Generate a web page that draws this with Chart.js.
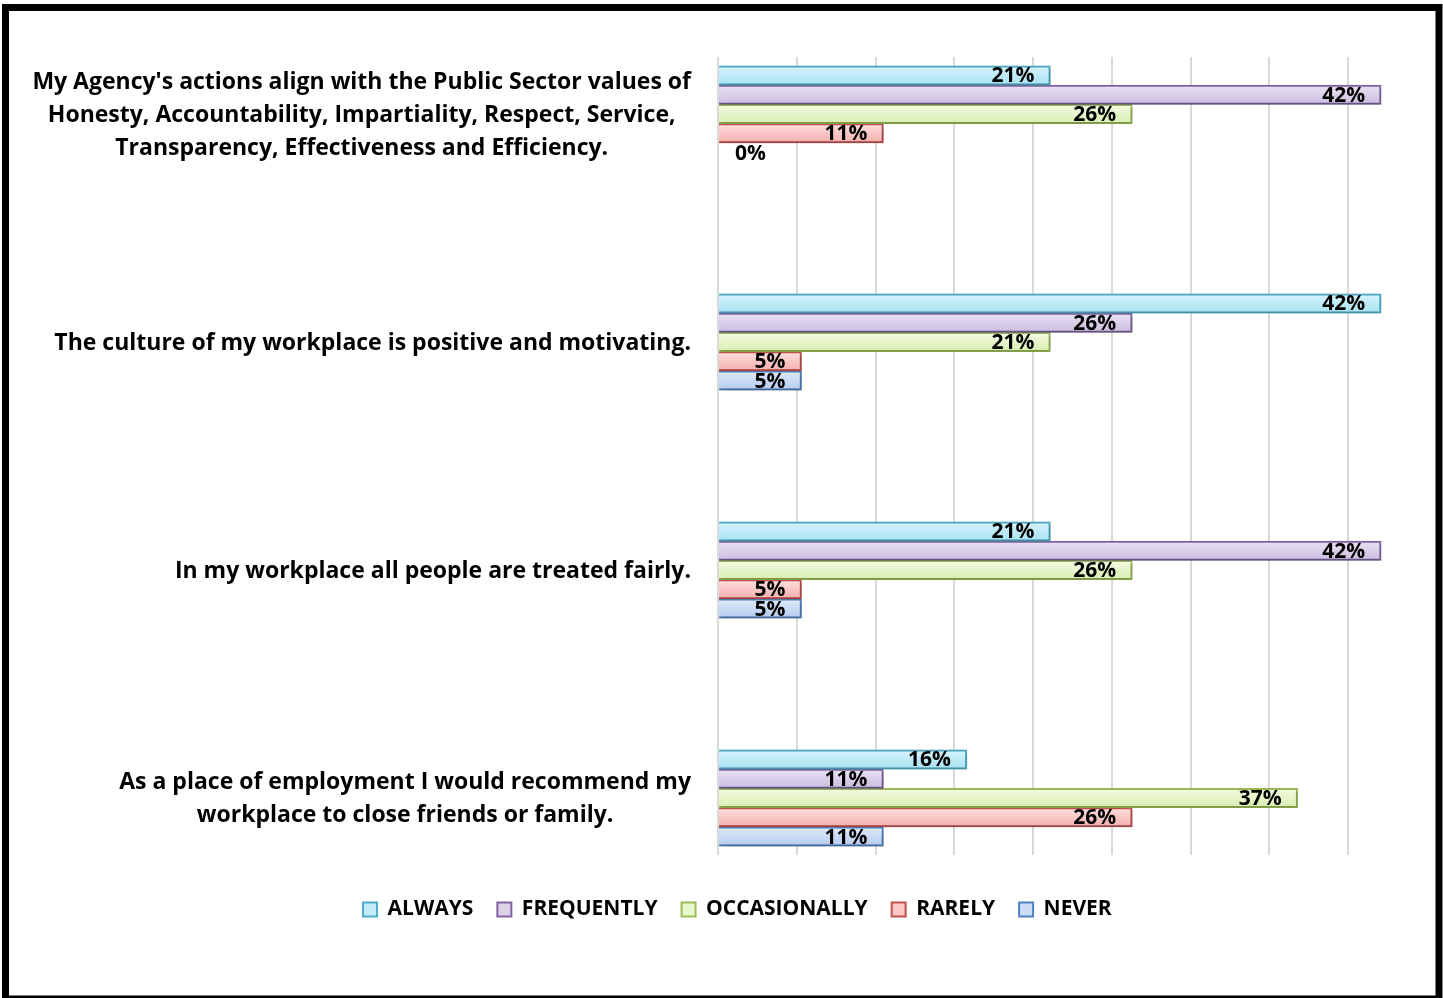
<!DOCTYPE html>
<html>
<head>
<meta charset="utf-8">
<script src="https://cdn.jsdelivr.net/npm/chart.js@4.4.1/dist/chart.umd.min.js"></script>
<style>
  html, body { margin: 0; padding: 0; background: #fff; }
</style>
</head>
<body>
<canvas id="chart" width="1443" height="998"></canvas>
<script>
// categories (each one is a list of label lines)
var categories = [
    ["My Agency's actions align with the Public Sector values of",
     "Honesty, Accountability, Impartiality, Respect, Service,",
     "Transparency, Effectiveness and Efficiency."],
    ["The culture of my workplace is positive and motivating."],
    ["In my workplace all people are treated fairly."],
    ["As a place of employment I would recommend my",
     "workplace to close friends or family."]
];
var seriesNames = ['ALWAYS', 'FREQUENTLY', 'OCCASIONALLY', 'RARELY', 'NEVER'];

// percentages
var always = [21.1, 42.1, 21.1, 15.8];
var frequently = [42.1, 26.3, 42.1, 10.5];
var occasionally = [26.3, 21.1, 26.3, 36.8];
var rarely = [10.5, 5.3, 5.3, 26.3];
var never = [0, 5.3, 5.3, 10.5];
var series = [always, frequently, occasionally, rarely, never];

// colours
var borderColors = ['#4bacc6', '#8064a2', '#9bbb59', '#c0504d', '#4f81bd'];
var topColors = ['#d6f4fc', '#eae3f2', '#f4fbe4', '#fde0df', '#e1ebfa'];
var bottomColors = ['#a8e2f3', '#cbbde0', '#d8eeb0', '#f5aeac', '#b3cbf0'];
var legendFill = ['#c4ecf8', '#dcd2ea', '#e8f6cc', '#fac8c7', '#cddcf6'];

Chart.defaults.font.family = 'Open Sans';

var labelFont = 'bold 23px "Open Sans"';
var valueFont = 'bold 21px "Open Sans"';

// white page + black frame
var framePlugin = {
    id: 'frame',
    beforeDraw: function (chart) {
        var ctx = chart.ctx;
        ctx.save();
        ctx.fillStyle = '#fff';
        ctx.fillRect(0, 0, chart.width, chart.height);
        ctx.restore();
    },
    afterDraw: function (chart) {
        var ctx = chart.ctx;
        ctx.save();
        ctx.strokeStyle = '#000';
        ctx.lineWidth = 7;
        ctx.strokeRect(5.5, 7.5, 1433.5, 991.5);
        ctx.restore();
    }
};

// gradient fill + shadow on bars, value labels after
var barPlugin = {
    id: 'bars',
    beforeDatasetsDraw: function (chart) {
        var ctx = chart.ctx;
        chart.data.datasets.forEach(function (ds, di) {
            chart.getDatasetMeta(di).data.forEach(function (bar) {
                var top = bar.y - bar.height / 2;
                var g = ctx.createLinearGradient(0, top, 0, top + bar.height);
                g.addColorStop(0, topColors[di]);
                g.addColorStop(1, bottomColors[di]);
                bar.options = Object.assign({}, bar.options, { backgroundColor: g });
            });
        });
        ctx.save();
        ctx.shadowColor = 'rgba(0,0,0,0.25)';
        ctx.shadowBlur = 4;
        ctx.shadowOffsetX = 1;
        ctx.shadowOffsetY = 2;
    },
    afterDatasetsDraw: function (chart) {
        var ctx = chart.ctx;
        ctx.restore();
        ctx.save();
        ctx.font = valueFont;
        ctx.fillStyle = '#000';
        ctx.textBaseline = 'middle';
        ctx.textAlign = 'right';
        chart.data.datasets.forEach(function (ds, di) {
            chart.getDatasetMeta(di).data.forEach(function (bar, i) {
                var text = Math.round(series[di][i]) + '%';
                var w = ctx.measureText(text).width;
                var x = Math.max(bar.x - 16, bar.base + 17 + w);
                ctx.fillText(text, x, bar.y + 1);
            });
        });
        ctx.restore();
    }
};

// category labels: block right aligned at the axis, lines centred inside
var categoryPlugin = {
    id: 'categoryLabels',
    afterDraw: function (chart) {
        var ctx = chart.ctx;
        var yScale = chart.scales.y;
        ctx.save();
        ctx.font = labelFont;
        ctx.fillStyle = '#000';
        ctx.textAlign = 'center';
        ctx.textBaseline = 'middle';
        categories.forEach(function (lines, i) {
            var cy = yScale.getPixelForValue(i) + 1;
            var w = Math.max.apply(null, lines.map(function (l) { return ctx.measureText(l).width; }));
            var cx = chart.chartArea.left - 27 - w / 2;
            lines.forEach(function (line, k) {
                ctx.fillText(line, cx, cy + (k - (lines.length - 1) / 2) * 33);
            });
        });
        ctx.restore();
    }
};

var datasets = seriesNames.map(function (name, di) {
    return {
        label: name,
        data: series[di].map(function (v, i) { return { x: v, y: i }; }),
        backgroundColor: topColors[di],
        borderColor: borderColors[di],
        borderWidth: 2,
        barThickness: 19.3
    };
});

var chart = new Chart(document.getElementById('chart'), {
    type: 'bar',
    data: { datasets: datasets },
    plugins: [framePlugin, barPlugin, categoryPlugin],
    options: {
        indexAxis: 'y',
        responsive: false,
        animation: false,
        layout: { padding: { top: 57, left: 48, right: 16.25, bottom: 68 } },
        scales: {
            x: {
                type: 'linear',
                min: 0,
                max: 45,
                ticks: { display: false, stepSize: 5 },
                grid: {
                    color: function (c) { return c.tick && c.tick.value > 40 ? 'rgba(0,0,0,0)' : '#d9d9d9'; },
                    lineWidth: 2,
                    drawTicks: false
                },
                border: { display: false },
                afterFit: function (s) { s.height = 20; }
            },
            y: {
                type: 'linear',
                reverse: true,
                min: -0.25,
                max: 3.25,
                offset: false,
                ticks: { display: false, stepSize: 1 },
                grid: { display: false },
                border: { display: false },
                afterFit: function (s) { s.width = 670; }
            }
        },
        plugins: {
            tooltip: { enabled: false },
            legend: {
                position: 'bottom',
                labels: {
                    boxWidth: 14,
                    boxHeight: 14,
                    padding: 24,
                    color: '#111',
                    font: { family: 'Open Sans', weight: 'bold', size: 21 },
                    generateLabels: function () {
                        return seriesNames.map(function (name, i) {
                            return {
                                text: name,
                                fillStyle: legendFill[i],
                                strokeStyle: borderColors[i],
                                lineWidth: 2,
                                datasetIndex: i,
                                hidden: false
                            };
                        });
                    }
                }
            }
        }
    }
});
</script>
</body>
</html>
